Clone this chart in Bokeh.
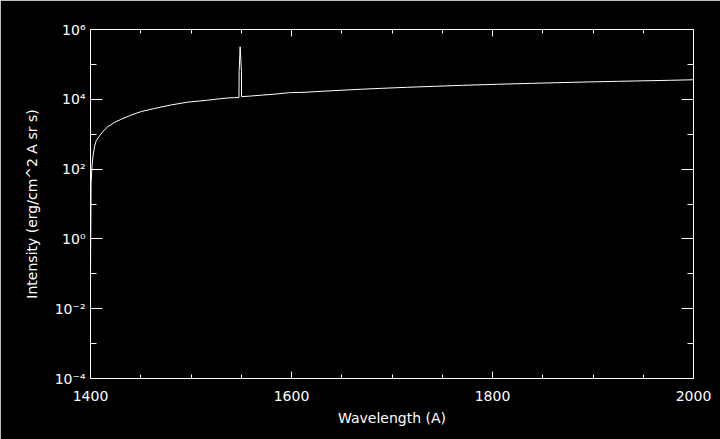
from bokeh.plotting import figure
from bokeh.models import LogAxis, LinearAxis, FixedTicker, ColumnDataSource, Range1d
from bokeh.embed import file_html
from bokeh.resources import INLINE

# Spectrum (wavelength in A, intensity in erg/cm^2 A sr s)
wavelength = [1400.0, 1400.6, 1401.5, 1402.5, 1404.2, 1405.8, 1409.2, 1412.4, 1417.4,
              1424.1, 1430.7, 1440.6, 1450.6, 1463.9, 1480.5, 1497.1, 1515.3, 1527.0,
              1537.0, 1547.7, 1547.9, 1548.9, 1550.2, 1550.3, 1558.0, 1571.0, 1584.0,
              1598.0, 1612.6, 1629.6, 1648.5, 1668.4, 1690.3, 1715.2, 1742.1, 1771.0,
              1803.8, 1839.7, 1879.5, 1925.3, 1976.1, 2000.0]
intensity = [0.11, 40.0, 124.0, 240.0, 468.0, 661.0, 912.0, 1202.0, 1660.0,
             2188.0, 2692.0, 3548.0, 4467.0, 5495.0, 6918.0, 8318.0, 9333.0, 10230.0,
             10960.0, 11220.0, 63000.0, 320000.0, 63000.0, 11900.0, 12300.0, 13200.0, 14100.0,
             15500.0, 15850.0, 16940.0, 18110.0, 19360.0, 20650.0, 22080.0, 23550.0, 25180.0,
             26920.0, 28710.0, 30690.0, 32810.0, 34990.0, 36300.0]

x_major = [1400, 1600, 1800, 2000]
x_minor = [1450, 1500, 1550, 1650, 1700, 1750, 1850, 1900, 1950]
y_major = [1e-4, 1e-2, 1e0, 1e2, 1e4, 1e6]
y_minor = [1e-3, 1e-1, 1e1, 1e3, 1e5]
y_labels = ["10\u207b\u2074", "10\u207b\u00b2", "10\u2070", "10\u00b2", "10\u2074", "10\u2076"]

FONT = "DejaVu Sans"
FG = "white"
BG = "black"

p = figure(width=720, height=439, output_backend="svg", toolbar_location=None,
           y_axis_type="log", x_range=Range1d(1400, 2000), y_range=Range1d(1e-4, 1e6),
           min_border_left=90, min_border_right=27, min_border_top=29, min_border_bottom=61,
           background_fill_color=BG, border_fill_color=BG, outline_line_color=FG,
           outline_line_width=1)
p.xgrid.visible = False
p.ygrid.visible = False

src = ColumnDataSource(dict(x=wavelength, y=intensity))
p.line("x", "y", source=src, line_color=FG, line_width=1)


def style_axis(ax, major_len, minor_len):
    ax.axis_line_color = FG
    ax.major_tick_line_color = FG
    ax.minor_tick_line_color = FG
    ax.major_tick_in = major_len
    ax.major_tick_out = 0
    ax.minor_tick_in = minor_len
    ax.minor_tick_out = 0
    ax.major_label_text_color = FG
    ax.major_label_text_font = FONT
    ax.major_label_text_font_size = "14px"
    ax.axis_label_text_color = FG
    ax.axis_label_text_font = FONT
    ax.axis_label_text_font_size = "14px"
    ax.axis_label_text_font_style = "normal"


def hide_labels(ax, ticks):
    ax.major_label_overrides = {v: "" for v in ticks}
    ax.major_label_text_color = None
    ax.major_label_text_font_size = "1px"
    ax.major_label_standoff = 0


xa = p.xaxis[0]
xa.ticker = FixedTicker(ticks=x_major, minor_ticks=x_minor)
xa.axis_label = "Wavelength (A)"
style_axis(xa, 7, 4)
xa.major_label_standoff = 12
xa.axis_label_standoff = 6

ya = p.yaxis[0]
ya.ticker = FixedTicker(ticks=y_major, minor_ticks=y_minor)
ya.axis_label = "Intensity (erg/cm^2 A sr s)"
ya.major_label_overrides = {v: s for v, s in zip(y_major, y_labels)}
style_axis(ya, 12, 6)
ya.major_label_standoff = 5
ya.axis_label_standoff = 12

top = LinearAxis(ticker=FixedTicker(ticks=x_major, minor_ticks=x_minor))
style_axis(top, 7, 4)
hide_labels(top, x_major)
p.add_layout(top, "above")

right = LogAxis(ticker=FixedTicker(ticks=y_major, minor_ticks=y_minor))
style_axis(right, 12, 6)
hide_labels(right, y_major)
p.add_layout(right, "right")

open("out.html", "w").write(file_html(p, INLINE))
